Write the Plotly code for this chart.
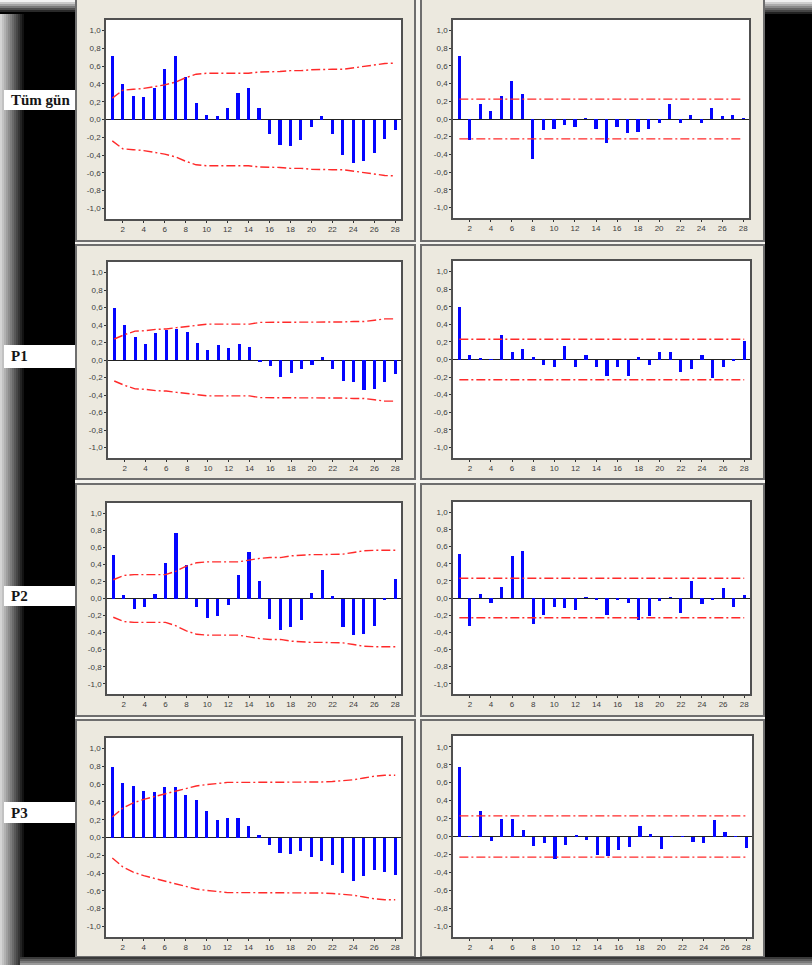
import plotly.graph_objects as go

W, H = 812, 965

lags = list(range(1, 29))

y_tick_vals = [-1.0, -0.8, -0.6, -0.4, -0.2, 0.0, 0.2, 0.4, 0.6, 0.8, 1.0]
y_tick_text = ["-1,0", "-0,8", "-0,6", "-0,4", "-0,2", "0,0", "0,2", "0,4", "0,6", "0,8", "1,0"]
x_tick_vals = [2, 4, 6, 8, 10, 12, 14, 16, 18, 20, 22, 24, 26, 28]

row_labels = ["Tüm gün", "P1", "P2", "P3"]

# --- Tüm gün ---
acf_tum_gun = [0.72, 0.40, 0.26, 0.25, 0.35, 0.57, 0.71, 0.48, 0.19, 0.05, 0.04, 0.13, 0.30, 0.36,
               0.13, -0.16, -0.29, -0.30, -0.23, -0.08, 0.04, -0.16, -0.40, -0.49, -0.47, -0.38, -0.22, -0.12]
acf_band_tum_gun = [0.24, 0.33, 0.34, 0.35, 0.37, 0.39, 0.42, 0.47, 0.51, 0.52, 0.52, 0.52, 0.52, 0.52,
                    0.535, 0.535, 0.54, 0.55, 0.55, 0.56, 0.565, 0.565, 0.565, 0.58, 0.60, 0.61, 0.63, 0.635]
pacf_tum_gun = [0.71, -0.24, 0.17, 0.09, 0.26, 0.43, 0.28, -0.45, -0.13, -0.11, -0.07, -0.09, 0.005, -0.11,
                -0.27, -0.09, -0.16, -0.15, -0.11, -0.04, 0.17, -0.05, 0.04, -0.05, 0.13, 0.03, 0.04, 0.005]
pacf_band_tum_gun = 0.225

# --- P1 ---
acf_p1 = [0.59, 0.40, 0.265, 0.18, 0.31, 0.34, 0.35, 0.32, 0.20, 0.12, 0.17, 0.14, 0.18, 0.15,
          -0.02, -0.07, -0.19, -0.15, -0.10, -0.06, 0.03, -0.10, -0.24, -0.25, -0.34, -0.33, -0.25, -0.16]
acf_band_p1 = [0.24, 0.29, 0.33, 0.335, 0.35, 0.355, 0.37, 0.385, 0.395, 0.41, 0.41, 0.41, 0.41, 0.41,
               0.43, 0.43, 0.43, 0.43, 0.43, 0.43, 0.43, 0.43, 0.435, 0.44, 0.44, 0.455, 0.47, 0.47]
pacf_p1 = [0.60, 0.05, 0.02, 0.005, 0.28, 0.08, 0.12, 0.03, -0.06, -0.09, 0.15, -0.09, 0.05, -0.09,
           -0.19, -0.09, -0.19, 0.03, -0.06, 0.09, 0.09, -0.14, -0.11, 0.05, -0.21, -0.09, -0.02, 0.21]
pacf_band_p1 = 0.23

# --- P2 ---
acf_p2 = [0.51, 0.04, -0.12, -0.10, 0.05, 0.42, 0.77, 0.39, -0.10, -0.23, -0.20, -0.08, 0.27, 0.55,
          0.21, -0.24, -0.37, -0.34, -0.25, 0.07, 0.33, 0.035, -0.33, -0.43, -0.42, -0.32, -0.02, 0.23]
acf_band_p2 = [0.22, 0.27, 0.28, 0.28, 0.28, 0.28, 0.32, 0.38, 0.42, 0.43, 0.43, 0.43, 0.43, 0.45,
               0.47, 0.48, 0.48, 0.50, 0.51, 0.515, 0.515, 0.515, 0.52, 0.54, 0.56, 0.565, 0.565, 0.565]
pacf_p2 = [0.51, -0.33, 0.05, -0.06, 0.13, 0.49, 0.55, -0.30, -0.20, -0.11, -0.12, -0.14, 0.005, -0.02,
           -0.20, -0.02, -0.06, -0.26, -0.21, -0.03, 0.005, -0.18, 0.20, -0.07, -0.015, 0.12, -0.10, 0.035]
pacf_band_p2 = 0.23

# --- P3 ---
acf_p3 = [0.79, 0.61, 0.58, 0.52, 0.51, 0.57, 0.57, 0.48, 0.42, 0.30, 0.20, 0.22, 0.22, 0.13,
          0.03, -0.08, -0.18, -0.19, -0.15, -0.22, -0.27, -0.31, -0.40, -0.49, -0.43, -0.37, -0.39, -0.42]
acf_band_p3 = [0.23, 0.33, 0.39, 0.43, 0.46, 0.49, 0.52, 0.555, 0.58, 0.595, 0.61, 0.62, 0.62, 0.62,
               0.62, 0.62, 0.62, 0.62, 0.62, 0.62, 0.625, 0.63, 0.64, 0.65, 0.67, 0.69, 0.70, 0.70]
pacf_p3 = [0.78, 0.005, 0.28, -0.045, 0.20, 0.20, 0.07, -0.11, -0.07, -0.25, -0.09, 0.02, -0.04, -0.21,
           -0.22, -0.155, -0.12, 0.115, 0.03, -0.14, 0.005, 0.005, -0.06, -0.07, 0.185, 0.05, 0.005, -0.125]
pacf_band_p3 = 0.23

acf_series = [acf_tum_gun, acf_p1, acf_p2, acf_p3]
acf_bands = [acf_band_tum_gun, acf_band_p1, acf_band_p2, acf_band_p3]
pacf_series = [pacf_tum_gun, pacf_p1, pacf_p2, pacf_p3]
pacf_bands = [pacf_band_tum_gun, pacf_band_p1, pacf_band_p2, pacf_band_p3]

# plot-area boxes in pixels (left, top, right, bottom), row by row: ACF then PACF
plot_boxes = [
    [(106, 20, 401, 219), (453, 20, 749, 218)],
    [(108, 262, 401, 458), (453, 261, 750, 458)],
    [(107, 503, 401, 694), (453, 502, 750, 694)],
    [(106, 738, 401, 937), (453, 736, 752, 937)],
]
# outer window frames per row (top, bottom) and per column (left, right)
frame_rows = [(-3, 241), (245, 479), (484, 716), (720, 957)]
frame_cols = [(76, 415), (421, 764)]
# label boxes (top, bottom) per row
label_boxes = [(90, 110), (345, 368), (586, 606), (802, 823)]

BLUE = "#0505ff"
RED = "#ff2a2a"
BEIGE = "#ece9df"
DASH = "9px,3px,2px,3px"


def px(x):
    return x / W


def py(y):
    return 1 - y / H


def hexmix(c0, c1, t):
    a = [int(c0[i:i + 2], 16) for i in (1, 3, 5)]
    b = [int(c1[i:i + 2], 16) for i in (1, 3, 5)]
    m = [round(a[k] + (b[k] - a[k]) * t) for k in range(3)]
    return "#%02x%02x%02x" % tuple(m)


def gradient(x0, x1, y0, y1, c0, c1, steps, horizontal):
    out = []
    for i in range(steps):
        t = i / (steps - 1)
        if horizontal:
            a = x0 + (x1 - x0) * i / steps
            b = x0 + (x1 - x0) * (i + 1) / steps
            box = dict(x0=px(a), x1=px(b), y0=py(y1), y1=py(y0))
        else:
            a = y0 + (y1 - y0) * i / steps
            b = y0 + (y1 - y0) * (i + 1) / steps
            box = dict(x0=px(x0), x1=px(x1), y0=py(b), y1=py(a))
        out.append(dict(type="rect", xref="paper", yref="paper", layer="below",
                        fillcolor=hexmix(c0, c1, t), line=dict(width=0), **box))
    return out


fig = go.Figure()
shapes = []

# window background
shapes.append(dict(type="rect", xref="paper", yref="paper", layer="below",
                   x0=px(75), x1=px(765), y0=py(957), y1=py(-2),
                   fillcolor="#f5f4ef", line=dict(width=0)))
for (ft, fb) in frame_rows:
    for (fl, fr) in frame_cols:
        shapes.append(dict(type="rect", xref="paper", yref="paper", layer="below",
                           x0=px(fl), x1=px(fr), y0=py(fb), y1=py(ft),
                           fillcolor=BEIGE, line=dict(color="#6e6e6e", width=2)))

# soft edges of the screenshot
shapes += gradient(0, 26, 0, 965, "#d4d4d4", "#000000", 13, True)
shapes += gradient(0, 75, 0, 14, "#f4f4f4", "#000000", 7, False)
shapes += gradient(765, 812, 0, 16, "#f0f0f0", "#000000", 8, False)
shapes += gradient(20, 812, 957, 965, "#3a3a3a", "#9a9a9a", 4, False)

axis_common = dict(
    showgrid=False, showline=True, mirror=True, linecolor="#505050", linewidth=1.5,
    ticks="outside", ticklen=2, tickwidth=1, tickcolor="#333333",
    tickfont=dict(family="Liberation Sans, Arial, sans-serif", size=8, color="#3c3c3c"),
    fixedrange=True,
)

k = 0
for r in range(4):
    for c in range(2):
        k += 1
        sfx = "" if k == 1 else str(k)
        xname, yname = "x" + sfx, "y" + sfx
        left, top, right, bottom = plot_boxes[r][c]

        # white plot area
        shapes.append(dict(type="rect", xref=xname + " domain", yref=yname + " domain", layer="below",
                           x0=0, x1=1, y0=0, y1=1, fillcolor="white", line=dict(width=0)))

        if c == 0:
            vals = acf_series[r]
            upper = acf_bands[r]
        else:
            vals = pacf_series[r]
            upper = [pacf_bands[r]] * len(lags)
        lower = [-v for v in upper]

        fig.add_trace(go.Bar(x=lags, y=vals, width=0.3, marker=dict(color=BLUE, line=dict(width=0)),
                             xaxis=xname, yaxis=yname, showlegend=False))
        for band in (upper, lower):
            fig.add_trace(go.Scatter(x=lags, y=band, mode="lines",
                                     line=dict(color=RED, width=1.4, dash=DASH),
                                     xaxis=xname, yaxis=yname, showlegend=False, hoverinfo="skip"))

        fig.layout["xaxis" + sfx] = dict(
            axis_common, domain=[px(left), px(right)], anchor=yname,
            range=[0.4, 28.55], tickvals=x_tick_vals, zeroline=False,
        )
        fig.layout["yaxis" + sfx] = dict(
            axis_common, domain=[py(bottom), py(top)], anchor=xname,
            range=[-1.12, 1.12], tickvals=y_tick_vals, ticktext=y_tick_text,
            zeroline=True, zerolinecolor="#222222", zerolinewidth=1,
        )

# row labels
annotations = []
for (lt, lb), text in zip(label_boxes, row_labels):
    shapes.append(dict(type="rect", xref="paper", yref="paper", layer="below",
                       x0=px(4), x1=px(75), y0=py(lb), y1=py(lt),
                       fillcolor="#ffffff", line=dict(width=0)))
    annotations.append(dict(xref="paper", yref="paper", x=px(9), y=py((lt + lb) / 2),
                            xanchor="left", yanchor="middle", showarrow=False,
                            text="<b>" + text + "</b>",
                            font=dict(family="Liberation Serif, Times New Roman, serif",
                                      size=15, color="#151515")))

fig.update_layout(
    width=W, height=H, margin=dict(l=0, r=0, t=0, b=0),
    paper_bgcolor="#000000", plot_bgcolor="rgba(0,0,0,0)",
    shapes=shapes, annotations=annotations, bargap=0,
    showlegend=False,
)

fig.write_html("out.html", config={"displayModeBar": False})
